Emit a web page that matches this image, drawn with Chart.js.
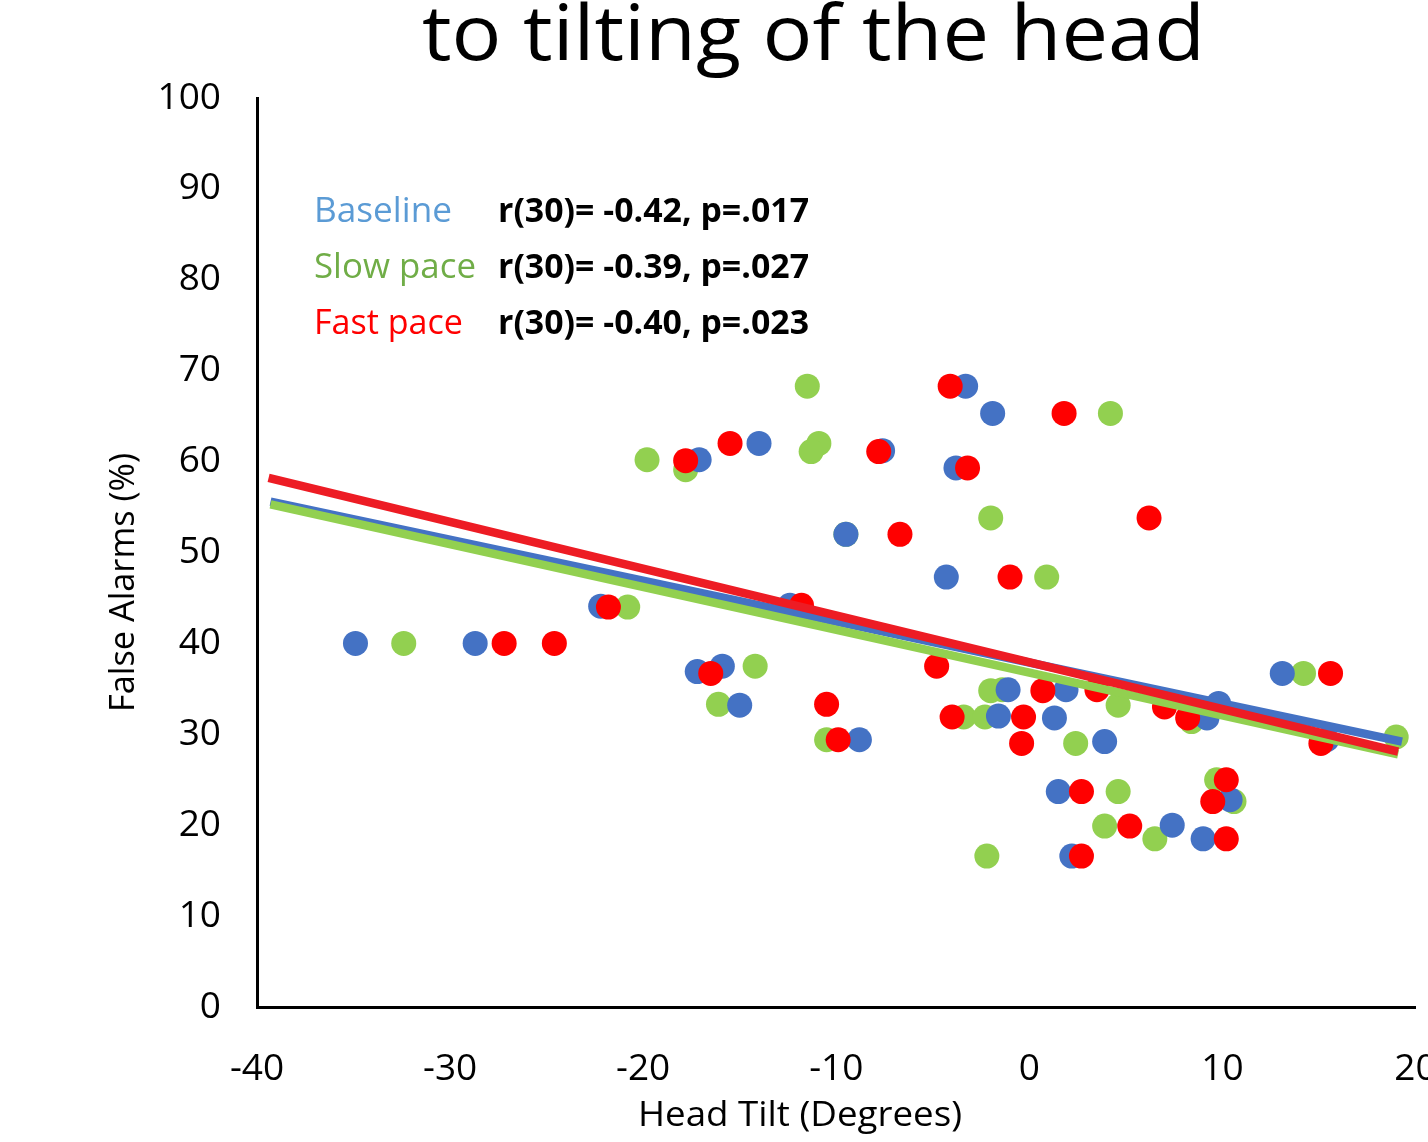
<!DOCTYPE html>
<html><head><meta charset="utf-8">
<script src="https://cdn.jsdelivr.net/npm/chart.js@4.4.1/dist/chart.umd.min.js"></script>
<style>html,body{margin:0;padding:0;background:#fff}</style>
</head><body>
<canvas id="c" width="1428" height="1142" style="display:block;width:1428px;height:1142px"></canvas>
<script>
// ---- data ----
const baselineX = [-34.9,-28.7,-22.2,-17.2,-15.9,-15.0,-17.1,-14.0,-9.5,-8.8,-7.6,-12.4,-3.3,-1.9,-3.8,-4.3,-1.1,-1.6,1.9,1.3,1.5,3.9,2.2,7.4,9.0,9.2,9.8,10.4,13.1,15.4];
const baselineY = [40.0,40.0,44.1,36.9,37.5,33.2,60.2,62.0,52.0,29.4,61.2,44.2,68.3,65.3,59.3,47.3,34.9,32.0,34.9,31.8,23.7,29.2,16.6,20.0,18.5,31.8,33.4,22.8,36.7,29.4];
const slowX = [-32.4,-20.8,-19.8,-17.8,-11.5,-10.9,-11.3,-9.5,-14.2,-16.1,-10.5,-2.0,0.9,-2.0,-1.4,-3.4,-2.3,4.6,2.4,4.6,3.9,6.5,-2.2,14.2,9.7,10.6,19.0,4.2,8.4];
const slowY = [40.0,44.0,60.2,59.1,68.3,62.0,61.1,52.0,37.5,33.3,29.4,53.8,47.3,34.8,34.9,31.9,31.9,33.2,29.0,23.7,19.9,18.5,16.6,36.7,25.0,22.6,29.7,65.3,31.4];
const fastX = [-27.2,-24.6,-21.8,-17.8,-15.5,-7.8,-4.1,-3.2,-6.7,-1.0,-11.8,-16.5,-4.8,-10.5,-9.9,-4.0,-0.3,-0.4,1.8,6.2,0.7,3.5,7.0,8.2,2.7,5.2,2.7,10.2,9.5,10.2,15.6,15.1];
const fastY = [40.0,40.0,44.0,60.1,62.0,61.1,68.3,59.3,52.0,47.3,44.2,36.7,37.5,33.3,29.4,31.9,31.9,29.0,65.3,53.8,34.8,34.9,33.0,31.8,23.7,19.9,16.6,25.0,22.6,18.5,36.7,29.0];
// trend line end points
const trendBaselineX = [-39.3, 19.3];
const trendBaselineY = [55.6, 29.2];
const trendSlowX = [-39.3, 19.1];
const trendSlowY = [55.3, 27.8];
const trendFastX = [-39.4, 19.1];
const trendFastY = [58.2, 28.1];
const xTicks = [-40,-30,-20,-10,0,10,20];
const yTicks = [0,10,20,30,40,50,60,70,80,90,100];
const seriesNames = ['Baseline','Slow pace','Fast pace'];
const statTexts = ['r(30)= -0.42, p=.017','r(30)= -0.39, p=.027','r(30)= -0.40, p=.023'];
const titleText = 'to tilting of the head';
const xTitle = 'Head Tilt (Degrees)';
const yTitle = 'False Alarms (%)';

const pts = (xs, ys) => xs.map((x, i) => ({x, y: ys[i]}));
const FONT = "'Open Sans', 'DejaVu Sans', sans-serif";

function fitText(ctx, text, x, y, width, font, color, rot) {
  ctx.save();
  ctx.font = font;
  ctx.fillStyle = color;
  ctx.textBaseline = 'alphabetic';
  ctx.textAlign = 'left';
  const w = ctx.measureText(text).width;
  ctx.translate(x, y);
  if (rot) ctx.rotate(rot);
  ctx.scale(width / w, 1);
  ctx.fillText(text, 0, 0);
  ctx.restore();
}

const overlay = {
  id: 'overlay',
  afterDraw(chart) {
    const ctx = chart.ctx;
    fitText(ctx, titleText, 422, 60, 783, `76px ${FONT}`, '#000');
    const nameCols = ['#5B9BD5', '#70AD47', '#FF0000'];
    const nameW = [138, 162, 149];
    const baseY = [222, 278, 334];
    for (let i = 0; i < 3; i++) {
      fitText(ctx, seriesNames[i], 314, baseY[i], nameW[i], `34px ${FONT}`, nameCols[i]);
      fitText(ctx, statTexts[i], 498, baseY[i], 311, `bold 34px ${FONT}`, '#000');
    }
    // axis titles
    fitText(ctx, xTitle, 638, 1126, 324, `34px ${FONT}`, '#000');
    fitText(ctx, yTitle, 134, 712, 259, `34px ${FONT}`, '#000', -Math.PI / 2);
  }
};

const lineDs = (label, xs, ys, color, order) => ({
  type: 'line', label, data: pts(xs, ys), borderColor: color, backgroundColor: color,
  borderWidth: 8.5, pointRadius: 0, fill: false, showLine: true, order, borderCapStyle: 'butt'
});
const ptDs = (label, xs, ys, color, order) => ({
  type: 'scatter', label, data: pts(xs, ys), backgroundColor: color, borderWidth: 0,
  pointRadius: 12.5, pointHoverRadius: 12.5, order
});

new Chart(document.getElementById('c'), {
  type: 'scatter',
  data: {
    datasets: [
      ptDs('Baseline', baselineX, baselineY, '#4472C4', 5),
      ptDs('Slow pace', slowX, slowY, '#92D050', 6),
      ptDs('Fast pace', fastX, fastY, '#FF0000', 4),
      lineDs('Baseline trend', trendBaselineX, trendBaselineY, '#4472C4', 3),
      lineDs('Slow trend', trendSlowX, trendSlowY, '#92D050', 2),
      lineDs('Fast trend', trendFastX, trendFastY, '#ED1C24', 1)
    ]
  },
  options: {
    responsive: false,
    animation: false,
    devicePixelRatio: 1,
    layout: { padding: { left: 0, top: 98, right: 12, bottom: 0 } },
    plugins: { legend: { display: false }, tooltip: { enabled: false }, title: { display: false } },
    scales: {
      x: {
        type: 'linear', min: -40, max: 20,
        afterBuildTicks: s => { s.ticks = xTicks.map(v => ({value: v})); },
        afterFit: s => { s.height = 135; s.paddingLeft = 0; s.paddingRight = 0; },
        grid: { display: false, drawTicks: false },
        border: { display: true, color: '#000', width: 3 },
        ticks: { color: '#000', padding: 40, font: { family: FONT, size: 37 }, maxRotation: 0, autoSkip: false },
        title: { display: false }
      },
      y: {
        type: 'linear', min: 0, max: 100,
        afterBuildTicks: s => { s.ticks = yTicks.map(v => ({value: v})); },
        afterFit: s => { s.width = 257; s.paddingTop = 0; s.paddingBottom = 0; },
        grid: { display: false, drawTicks: false },
        border: { display: true, color: '#000', width: 3 },
        ticks: { color: '#000', padding: 36, font: { family: FONT, size: 37 }, autoSkip: false },
        title: { display: false }
      }
    }
  },
  plugins: [overlay]
});
</script>
</body></html>
